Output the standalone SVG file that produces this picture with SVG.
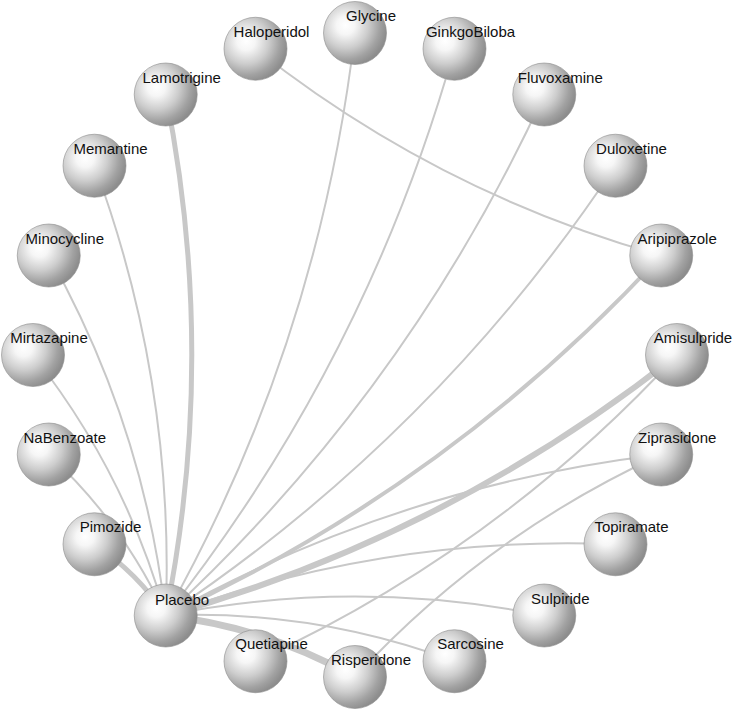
<svg xmlns="http://www.w3.org/2000/svg" width="736" height="711" viewBox="0 0 736 711">
<defs>
<radialGradient id="ball" cx="0.35" cy="0.38" r="0.72" fx="0.35" fy="0.38">
<stop offset="0" stop-color="#ffffff"/>
<stop offset="0.2" stop-color="#f6f6f6"/>
<stop offset="0.5" stop-color="#cdcdcd"/>
<stop offset="0.75" stop-color="#a2a2a2"/>
<stop offset="0.9" stop-color="#8f8f8f"/>
<stop offset="1" stop-color="#888888"/>
</radialGradient>
</defs>
<style>
.e{fill:none;stroke:#c8c8c8;stroke-width:2;stroke-linecap:round}
.n circle{fill:url(#ball);stroke:#8c8c8c;stroke-width:0.6}
.n text{font-family:"Liberation Sans",Arial,sans-serif;font-size:15px;fill:#111;text-anchor:middle}
</style>
<rect width="736" height="711" fill="#ffffff"/>
<g id="edges">
<path class="e" style="stroke-width:6" d="M677,355 Q447.42,536.38 165.73,615.5"/>
<path class="e" style="stroke-width:4" d="M661.24,255.5 Q449.49,485.05 165.73,615.5"/>
<path class="e" d="M615.5,165.73 Q435.6,435.6 165.73,615.5"/>
<path class="e" d="M544.27,94.5 Q407.1,392.85 165.73,615.5"/>
<path class="e" d="M454.5,48.76 Q366.79,361.01 165.73,615.5"/>
<path class="e" d="M355,33 Q318.62,343.18 165.73,615.5"/>
<path class="e" style="stroke-width:5" d="M165.73,94.5 Q217.83,355 165.73,615.5"/>
<path class="e" d="M94.5,165.73 Q175.1,383.5 165.73,615.5"/>
<path class="e" d="M48.76,255.5 Q143.25,423.8 165.73,615.5"/>
<path class="e" d="M33,355 Q125.42,471.98 165.73,615.5"/>
<path class="e" d="M48.76,454.5 Q123.35,523.3 165.73,615.5"/>
<path class="e" style="stroke-width:5" d="M94.5,544.27 Q137.24,572.77 165.73,615.5"/>
<path class="e" style="stroke-width:7" d="M165.73,615.5 Q266.52,627.32 355,677"/>
<path class="e" d="M165.73,615.5 Q314.69,609.49 454.5,661.24"/>
<path class="e" d="M165.73,615.5 Q355,577.65 544.27,615.5"/>
<path class="e" d="M165.73,615.5 Q383.5,534.9 615.5,544.27"/>
<path class="e" d="M165.73,615.5 Q397.39,485.7 661.24,454.5"/>
<path class="e" d="M661.24,255.5 Q437.7,192.7 255.5,48.76"/>
<path class="e" d="M677,355 Q496.87,550.27 255.5,661.24"/>
<path class="e" d="M355,677 Q485.87,535.13 661.24,454.5"/>
</g>
<g id="n-glycine" class="n"><circle cx="355" cy="33" r="31.5"/><text x="371" y="21">Glycine</text></g>
<g id="n-ginkgobiloba" class="n"><circle cx="454.5" cy="48.76" r="31.5"/><text x="470.5" y="36.8">GinkgoBiloba</text></g>
<g id="n-fluvoxamine" class="n"><circle cx="544.27" cy="94.5" r="31.5"/><text x="560.3" y="82.5">Fluvoxamine</text></g>
<g id="n-duloxetine" class="n"><circle cx="615.5" cy="165.73" r="31.5"/><text x="631.5" y="153.7">Duloxetine</text></g>
<g id="n-aripiprazole" class="n"><circle cx="661.24" cy="255.5" r="31.5"/><text x="677.2" y="243.5">Aripiprazole</text></g>
<g id="n-amisulpride" class="n"><circle cx="677" cy="355" r="31.5"/><text x="693" y="343">Amisulpride</text></g>
<g id="n-ziprasidone" class="n"><circle cx="661.24" cy="454.5" r="31.5"/><text x="677.2" y="442.5">Ziprasidone</text></g>
<g id="n-topiramate" class="n"><circle cx="615.5" cy="544.27" r="31.5"/><text x="631.5" y="532.3">Topiramate</text></g>
<g id="n-sulpiride" class="n"><circle cx="544.27" cy="615.5" r="31.5"/><text x="560.3" y="603.5">Sulpiride</text></g>
<g id="n-sarcosine" class="n"><circle cx="454.5" cy="661.24" r="31.5"/><text x="470.5" y="649.2">Sarcosine</text></g>
<g id="n-risperidone" class="n"><circle cx="355" cy="677" r="31.5"/><text x="371" y="665">Risperidone</text></g>
<g id="n-quetiapine" class="n"><circle cx="255.5" cy="661.24" r="31.5"/><text x="271.5" y="649.2">Quetiapine</text></g>
<g id="n-placebo" class="n"><circle cx="165.73" cy="615.5" r="31.5"/><text x="182" y="604.5">Placebo</text></g>
<g id="n-pimozide" class="n"><circle cx="94.5" cy="544.27" r="31.5"/><text x="110.5" y="532.3">Pimozide</text></g>
<g id="n-nabenzoate" class="n"><circle cx="48.76" cy="454.5" r="31.5"/><text x="64.8" y="442.5">NaBenzoate</text></g>
<g id="n-mirtazapine" class="n"><circle cx="33" cy="355" r="31.5"/><text x="49" y="343">Mirtazapine</text></g>
<g id="n-minocycline" class="n"><circle cx="48.76" cy="255.5" r="31.5"/><text x="64.8" y="243.5">Minocycline</text></g>
<g id="n-memantine" class="n"><circle cx="94.5" cy="165.73" r="31.5"/><text x="110.5" y="153.7">Memantine</text></g>
<g id="n-lamotrigine" class="n"><circle cx="165.73" cy="94.5" r="31.5"/><text x="181.7" y="82.5">Lamotrigine</text></g>
<g id="n-haloperidol" class="n"><circle cx="255.5" cy="48.76" r="31.5"/><text x="271.5" y="36.8">Haloperidol</text></g>
</svg>
